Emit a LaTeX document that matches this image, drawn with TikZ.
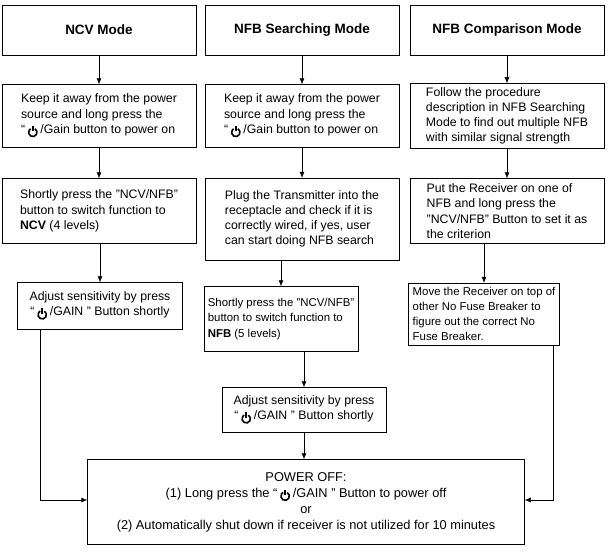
\documentclass[tikz,border=0pt]{standalone}
\usepackage{fontspec}
\setmainfont{Liberation Sans}
\usetikzlibrary{arrows.meta}
\newcommand{\pw}{\raisebox{0.5pt}{\tikz[baseline=-0.5pt,line width=1.6pt]{\draw (60:4.2pt) arc (60:-240:4.2pt); \draw (0,1pt)--(0,6.5pt);}}}
\begin{document}
\begin{tikzpicture}[x=1pt,y=-1pt,
 bx/.style={draw,line width=0.5pt,inner sep=4pt,align=left,font=\fontsize{12.3}{15.2}\selectfont},
 sm/.style={font=\fontsize{11.4}{15.2}\selectfont},
 hd/.style={draw,line width=0.5pt,font=\bfseries\fontsize{13.5}{16}\selectfont},
 ar/.style={-{Latex[length=6pt,width=5pt]},line width=0.5pt}]
\useasboundingbox (0,0) rectangle (610,552);
% headers
\node[hd,minimum width=194,minimum height=50] (h1) at (99,30) {NCV Mode};
\node[hd,minimum width=194,minimum height=50] (h2) at (302,30) {NFB Searching Mode};
\node[hd,minimum width=194,minimum height=50] (h3) at (507,30) {NFB Comparison Mode};
% row 2
\node[bx,minimum width=194,minimum height=63] (a1) at (99,116) {Keep it away from the power\\source and long press the\\``\,\pw\,/Gain button to power on};
\node[bx,minimum width=194,minimum height=63] (b1) at (302,116) {Keep it away from the power\\source and long press the\\``\,\pw\,/Gain button to power on};
\node[bx,minimum width=194,minimum height=63] (c1) at (507,116) {Follow the procedure\\description in NFB Searching\\Mode to find out multiple NFB\\with similar signal strength};
% row 3
\node[bx,minimum width=194,minimum height=65] (a2) at (99,211) {Shortly press the "NCV/NFB"\\button to switch function to\\\textbf{NCV} (4 levels)};
\node[bx,minimum width=194,minimum height=82] (b2) at (302,219) {Plug the Transmitter into the\\receptacle and check if it is\\correctly wired, if yes, user\\can start doing NFB search};
\node[bx,minimum width=194,minimum height=65] (c2) at (507,211) {Put the Receiver on one of\\NFB and long press the\\"NCV/NFB" Button to set it as\\the criterion};
% row 4
\node[bx,minimum width=165,minimum height=47,align=center] (a3) at (100,306) {Adjust sensitivity by press\\``\,\pw\,/GAIN '' Button shortly};
\node[bx,sm,minimum width=150,minimum height=65] (b3) at (281,319) {Shortly press the "NCV/NFB"\\button to switch function to\\\textbf{NFB} (5 levels)};
\node[bx,sm,minimum width=148,minimum height=62] (c3) at (484,314) {Move the Receiver on top of\\other No Fuse Breaker to\\figure out the correct No\\Fuse Breaker.};
% row 5
\node[bx,minimum width=164,minimum height=45,align=center] (b4) at (304,410) {Adjust sensitivity by press\\``\,\pw\,/GAIN '' Button shortly};
% final
\node[bx,minimum width=437,minimum height=85,align=center,font=\fontsize{12.8}{16}\selectfont] (f) at (306,502) {POWER OFF:\\(1) Long press the ``\,\pw\,/GAIN '' Button to power off\\or\\(2) Automatically shut down if receiver is not utilized for 10 minutes};
% arrows
\draw[ar] (h1) -- (a1);
\draw[ar] (h2) -- (b1);
\draw[ar] (h3) -- (c1);
\draw[ar] (a1) -- (a2);
\draw[ar] (b1) -- (b2);
\draw[ar] (c1) -- (c2);
\draw[ar] (a2.south -| a3) -- (a3);
\draw[ar] (b2.south -| b3) -- (b3);
\draw[ar] (c2.south -| c3) -- (c3);
\draw[ar] (b3.south -| b4) -- (b4);
\draw[ar] (b4) -- (b4 |- f.north);
\coordinate (l1) at (40,500);
\coordinate (r1) at (553,500);
\draw[ar] (40,329.5) -- (l1) -- (l1 -| f.west);
\draw[ar] (553,345) -- (r1) -- (r1 -| f.east);
\end{tikzpicture}
\end{document}
